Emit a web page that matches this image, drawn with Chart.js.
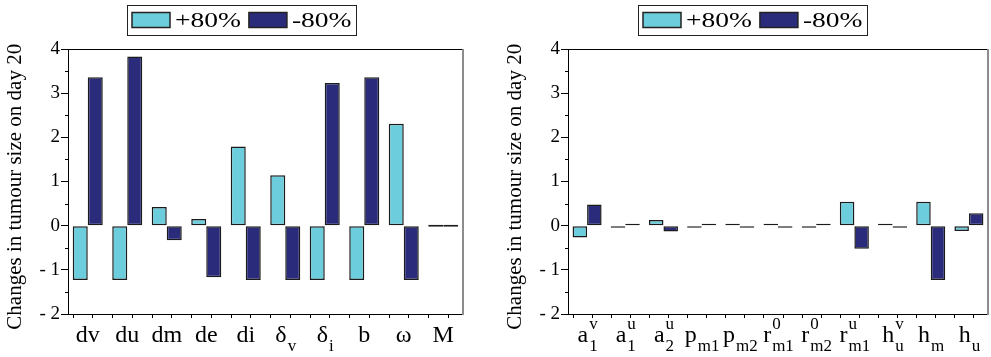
<!DOCTYPE html>
<html>
<head>
<meta charset="utf-8">
<script src="https://cdn.jsdelivr.net/npm/chart.js@4.4.1/dist/chart.umd.min.js"></script>
<style>
  html, body { margin: 0; padding: 0; background: #fff; }
  #wrap { position: relative; width: 991px; height: 357px; }
  canvas { position: absolute; top: 0; }
  #leftChart { left: 0; }
  #rightChart { left: 500px; }
</style>
</head>
<body>
<div id="wrap">
  <canvas id="leftChart" width="495" height="357"></canvas>
  <canvas id="rightChart" width="491" height="357"></canvas>
</div>
<script>
// left panel
const leftCategories = ['dv', 'du', 'dm', 'de', 'di', 'δv', 'δi', 'b', 'ω', 'M'];
const leftTickParts = [['dv'], ['du'], ['dm'], ['de'], ['di'], ['δ', 'v'], ['δ', 'i'], ['b'], ['ω'], ['M']];
const leftPlus  = [-1.23, -1.23, 0.42, 0.15, 1.79, 1.14, -1.23, -1.23, 2.31, 0];
const leftMinus = [3.36, 3.83, -0.33, -1.17, -1.23, -1.23, 3.23, 3.36, -1.23, 0];

// right panel  (base, subscript, superscript)
const rightCategories = ['a1v', 'a1u', 'a2u', 'pm1', 'pm2', 'r0m1', 'r0m2', 'rum1', 'hvu', 'hm', 'hu'];
const rightTickParts = [['a', '1', 'v'], ['a', '1', 'u'], ['a', '2', 'u'], ['p', 'm1'], ['p', 'm2'],
                        ['r', 'm1', '0'], ['r', 'm2', '0'], ['r', 'm1', 'u'], ['h', 'u', 'v'], ['h', 'm'], ['h', 'u']];
const rightPlus  = [-0.27, -0.03, 0.13, -0.01, 0.01, 0.01, -0.02, 0.54, 0.01, 0.54, -0.12];
const rightMinus = [0.48, 0.03, -0.13, 0.01, -0.01, -0.01, 0.02, -0.52, -0.01, -1.23, 0.28];

const seriesNames = ['+80%', '-80%'];
const yTicks = [-2, -1, 0, 1, 2, 3, 4];

const serif = '"Liberation Serif", "Times New Roman", serif';
const cyan = '#6ccedc';
const navy = '#2b2b7b';

Chart.defaults.font.family = serif;
Chart.defaults.color = '#000';

// box around the plot, minor ticks on y, Maple-style ticks on x
const framePlugin = {
  id: 'frame',
  afterDraw(chart) {
    const {ctx, chartArea: a, scales: {x, y}} = chart;
    ctx.save();
    ctx.strokeStyle = '#000';
    ctx.lineWidth = 1;
    ctx.beginPath();
    ctx.moveTo(a.left, a.top + 0.5);
    ctx.lineTo(a.right, a.top + 0.5);
    ctx.stroke();
    ctx.strokeStyle = '#8c8c8c';
    ctx.lineWidth = 2;
    ctx.beginPath();
    ctx.moveTo(a.right, a.top);
    ctx.lineTo(a.right, a.bottom + 1);
    ctx.stroke();

    ctx.strokeStyle = '#000';
    ctx.lineWidth = 1;
    for (let v = y.min + 0.5; v < y.max; v += 1) {
      const py = Math.round(y.getPixelForValue(v)) + 0.5;
      ctx.beginPath();
      ctx.moveTo(a.left - 3, py);
      ctx.lineTo(a.left, py);
      ctx.stroke();
    }
    const step = x.width / chart.data.labels.length;
    const group = step * 0.76;
    chart.data.labels.forEach((l, i) => {
      const x0 = x.getPixelForValue(i) - group / 2;
      [x0, x0 + step / 2].forEach(px => {
        px = Math.round(px) + 0.5;
        ctx.beginPath();
        ctx.moveTo(px, a.bottom);
        ctx.lineTo(px, a.bottom + 4);
        ctx.stroke();
      });
    });
    ctx.restore();
  }
};

// category labels with subscripts / superscripts
const tickLabelPlugin = {
  id: 'tickLabels',
  afterDraw(chart, args, opts) {
    const {ctx, scales: {x}} = chart;
    ctx.save();
    ctx.fillStyle = '#000';
    ctx.textBaseline = 'alphabetic';
    ctx.textAlign = 'left';
    opts.parts.forEach((p, i) => {
      const [base, sub = '', sup = ''] = p;
      ctx.font = '24px ' + serif;
      const wb = ctx.measureText(base).width;
      ctx.font = '17px ' + serif;
      const ws = Math.max(ctx.measureText(sub).width, ctx.measureText(sup).width);
      const left = x.getPixelForValue(i) - (wb + ws) / 2;
      ctx.font = '24px ' + serif;
      ctx.fillText(base, left, x.top + 28);
      ctx.font = '17px ' + serif;
      if (sub) ctx.fillText(sub, left + wb + 1, x.top + 37);
      if (sup) ctx.fillText(sup, left + wb + 1, x.top + 15);
    });
    ctx.restore();
  }
};

// framed legend on top
const boxLegendPlugin = {
  id: 'boxLegend',
  afterDraw(chart, args, opts) {
    const ctx = chart.ctx;
    const items = chart.data.datasets;
    const sx = 1.25;
    const sw = 38, sh = 15, gap = 5, between = 8, pad = 5;
    ctx.save();
    ctx.font = '22px ' + serif;
    const widths = items.map(d => ctx.measureText(d.label).width * sx);
    const total = pad * 2 + items.length * (sw + gap) + widths.reduce((s, w) => s + w, 0) + between * (items.length - 1);
    let xx = Math.round(opts.center - total / 2);
    const top = 5, h = 30, cy = top + h / 2;
    ctx.strokeStyle = '#222';
    ctx.lineWidth = 1;
    ctx.strokeRect(xx + 0.5, top + 0.5, Math.round(total), h);
    xx += pad;
    items.forEach((d, i) => {
      ctx.fillStyle = d.backgroundColor;
      ctx.fillRect(xx, cy - sh / 2, sw, sh);
      ctx.strokeStyle = '#222';
      ctx.lineWidth = 1.5;
      ctx.strokeRect(xx, cy - sh / 2, sw, sh);
      xx += sw + gap;
      ctx.save();
      ctx.translate(xx, cy);
      ctx.scale(sx, 1);
      ctx.fillStyle = '#000';
      ctx.textBaseline = 'middle';
      ctx.fillText(d.label, 0, 1);
      ctx.restore();
      xx += widths[i] + between;
    });
    ctx.restore();
  }
};

function barSet(label, data, color) {
  return {
    label, data,
    backgroundColor: color,
    borderColor: '#1b1b1b',
    borderWidth: 1.5,
    borderSkipped: false,
    minBarLength: 2,
    categoryPercentage: 0.76,
    barPercentage: 1
  };
}

function makeChart(id, labels, plus, minus, parts, padRight, legendCenter) {
  return new Chart(document.getElementById(id), {
    type: 'bar',
    data: {
      labels,
      datasets: [barSet(seriesNames[0], plus, cyan), barSet(seriesNames[1], minus, navy)]
    },
    options: {
      responsive: false,
      animation: false,
      devicePixelRatio: 1,
      layout: { padding: { top: 49, right: padRight, left: 0, bottom: 0 } },
      plugins: {
        legend: { display: false },
        tooltip: { enabled: false },
        boxLegend: { center: legendCenter },
        tickLabels: { parts }
      },
      scales: {
        x: {
          grid: { display: false },
          border: { color: '#000', width: 1 },
          ticks: { display: false },
          afterFit: s => { s.height = 43; }
        },
        y: {
          min: yTicks[0],
          max: yTicks[yTicks.length - 1],
          ticks: {
            stepSize: 1,
            padding: 1,
            color: '#000',
            font: { family: serif, size: 19 },
            callback: v => v < 0 ? '- ' + (-v) : String(v)
          },
          grid: { drawOnChartArea: false, drawTicks: true, tickLength: 7, color: '#000' },
          border: { color: '#000', width: 1 },
          title: {
            display: true,
            // trailing spaces nudge the rotated title down a little
            text: 'Changes in tumour size on day 20  ',
            color: '#000',
            font: { family: serif, size: 21 },
            padding: { top: 3, bottom: 0 }
          },
          afterFit: s => { s.width = 68; }
        }
      }
    },
    plugins: [framePlugin, tickLabelPlugin, boxLegendPlugin]
  });
}

makeChart('leftChart', leftCategories, leftPlus, leftMinus, leftTickParts, 32, 242);
makeChart('rightChart', rightCategories, rightPlus, rightMinus, rightTickParts, 3, 253);
</script>
</body>
</html>
